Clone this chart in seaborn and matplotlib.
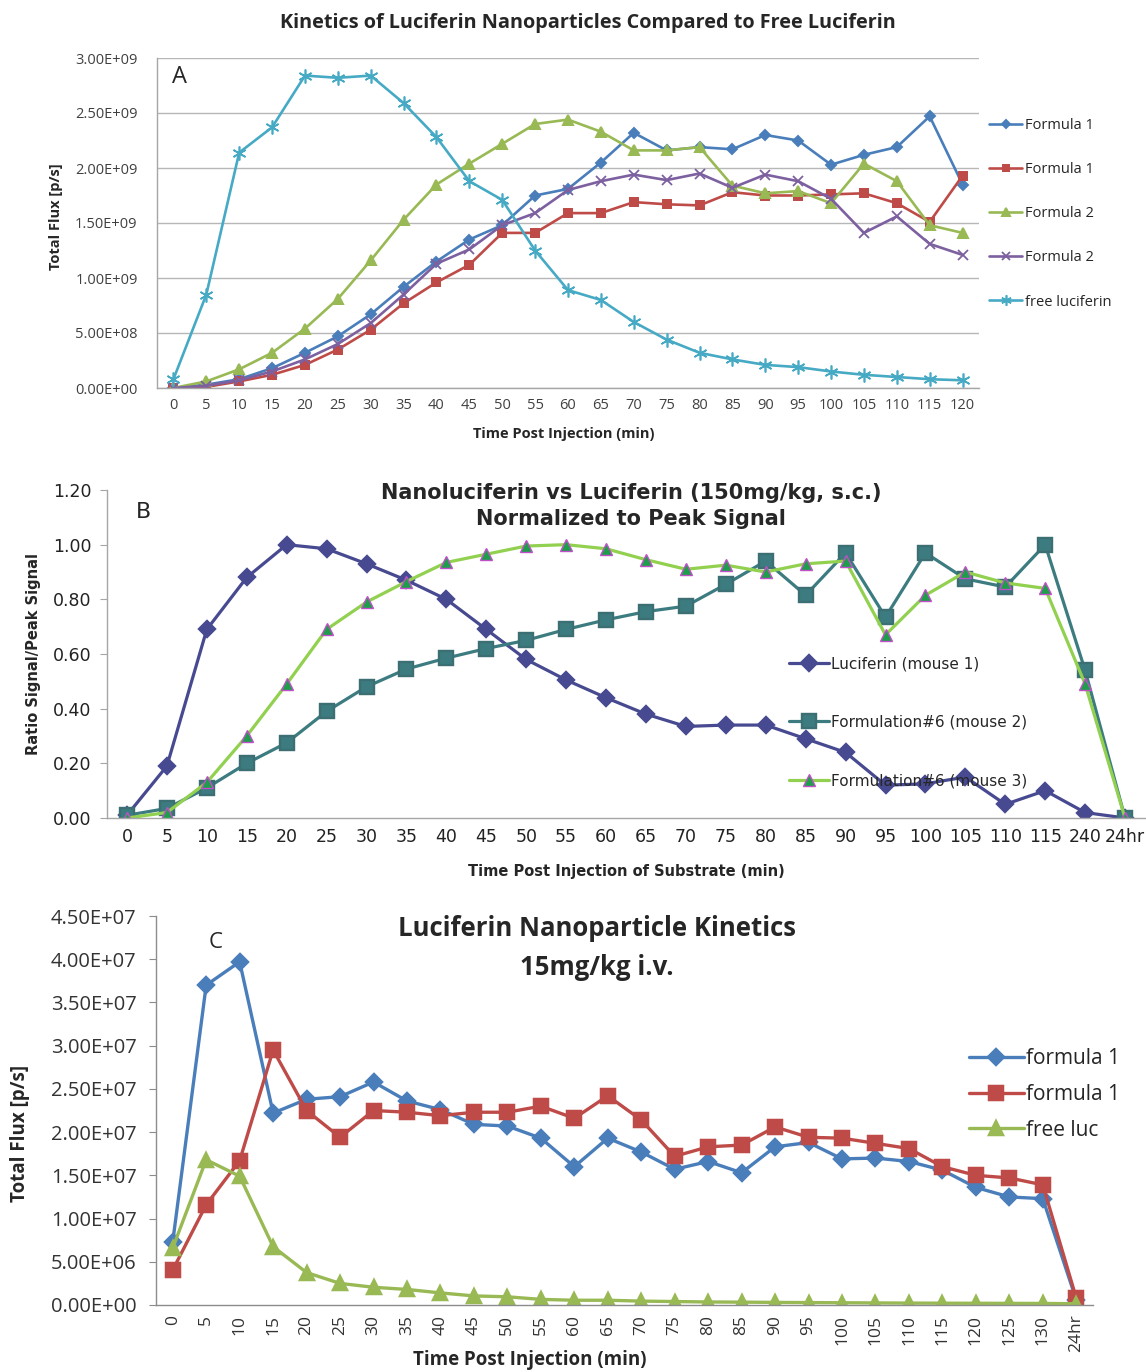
import numpy as np
import matplotlib
matplotlib.use("Agg")
import matplotlib.pyplot as plt
import seaborn as sns
from matplotlib.ticker import FuncFormatter

sns.set_style("white")
plt.rcParams["font.family"] = ["Open Sans", "DejaVu Sans"]

# ---- panel A : total flux, units of 1e9 p/s
times_a = ["0", "5", "10", "15", "20", "25", "30", "35", "40", "45", "50", "55", "60",
           "65", "70", "75", "80", "85", "90", "95", "100", "105", "110", "115", "120"]
a_formula1_blue = [0.00, 0.03, 0.08, 0.18, 0.32, 0.47, 0.67, 0.92, 1.15, 1.35, 1.48, 1.75, 1.81,
                   2.05, 2.32, 2.16, 2.19, 2.17, 2.30, 2.25, 2.03, 2.12, 2.19, 2.47, 1.85]
a_formula1_red = [0.00, 0.01, 0.06, 0.12, 0.21, 0.35, 0.53, 0.77, 0.96, 1.12, 1.41, 1.41, 1.59,
                  1.59, 1.69, 1.67, 1.66, 1.78, 1.75, 1.75, 1.76, 1.77, 1.68, 1.51, 1.93]
a_formula2_green = [0.00, 0.06, 0.17, 0.32, 0.54, 0.81, 1.16, 1.53, 1.85, 2.04, 2.22, 2.40, 2.44,
                    2.33, 2.16, 2.16, 2.19, 1.84, 1.77, 1.79, 1.68, 2.04, 1.88, 1.48, 1.41]
a_formula2_purple = [0.00, 0.02, 0.07, 0.15, 0.26, 0.40, 0.59, 0.85, 1.13, 1.26, 1.48, 1.59, 1.80,
                     1.88, 1.94, 1.89, 1.95, 1.82, 1.94, 1.88, 1.72, 1.41, 1.56, 1.31, 1.21]
a_free = [0.08, 0.85, 2.14, 2.37, 2.84, 2.82, 2.84, 2.59, 2.28, 1.88, 1.71, 1.25, 0.89,
          0.80, 0.60, 0.44, 0.32, 0.26, 0.21, 0.19, 0.15, 0.12, 0.10, 0.08, 0.07]

# ---- panel B : ratio signal / peak signal
times_b = ["0", "5", "10", "15", "20", "25", "30", "35", "40", "45", "50", "55", "60",
           "65", "70", "75", "80", "85", "90", "95", "100", "105", "110", "115", "240", "24hr"]
b_luc_m1 = [0.01, 0.19, 0.69, 0.88, 1.00, 0.985, 0.93, 0.87, 0.80, 0.69, 0.58, 0.505, 0.44,
            0.38, 0.335, 0.34, 0.34, 0.29, 0.24, 0.12, 0.125, 0.15, 0.05, 0.10, 0.02, 0.00]
b_f6_m2 = [0.01, 0.035, 0.11, 0.20, 0.275, 0.39, 0.48, 0.545, 0.585, 0.62, 0.65, 0.69, 0.725,
           0.755, 0.775, 0.855, 0.94, 0.815, 0.97, 0.735, 0.97, 0.875, 0.845, 1.00, 0.54, 0.00]
b_f6_m3 = [0.00, 0.02, 0.13, 0.30, 0.49, 0.69, 0.79, 0.865, 0.935, 0.965, 0.995, 1.00, 0.985,
           0.945, 0.91, 0.925, 0.90, 0.93, 0.94, 0.67, 0.815, 0.90, 0.86, 0.84, 0.49, 0.00]

# ---- panel C : total flux, units of 1e6 p/s
times_c = ["0", "5", "10", "15", "20", "25", "30", "35", "40", "45", "50", "55", "60", "65",
           "70", "75", "80", "85", "90", "95", "100", "105", "110", "115", "120", "125", "130", "24hr"]
c_formula1_blue = [7.3, 37.0, 39.7, 22.2, 23.8, 24.1, 25.8, 23.6, 22.6, 20.9, 20.7, 19.3, 16.0, 19.3,
                   17.7, 15.7, 16.6, 15.3, 18.3, 18.8, 16.9, 17.0, 16.6, 15.6, 13.6, 12.5, 12.3, 0.6]
c_formula1_red = [4.05, 11.6, 16.7, 29.5, 22.5, 19.4, 22.5, 22.3, 21.9, 22.3, 22.3, 23.0, 21.6, 24.2,
                  21.4, 17.2, 18.3, 18.5, 20.6, 19.4, 19.3, 18.7, 18.1, 16.0, 15.0, 14.7, 13.9, 0.8]
c_free = [6.6, 16.8, 14.9, 6.75, 3.75, 2.5, 2.05, 1.8, 1.4, 1.05, 0.95, 0.65, 0.55, 0.55,
          0.45, 0.40, 0.35, 0.33, 0.30, 0.28, 0.26, 0.24, 0.22, 0.21, 0.20, 0.19, 0.18, 0.15]

W, H = 1146, 1372
fig = plt.figure(figsize=(W / 100, H / 100), dpi=100)
DV = ["DejaVu Sans"]


def box(left, top, right, bottom):
    return [left / W, 1 - bottom / H, (right - left) / W, (bottom - top) / H]


def draw(ax, x, y, color, marker, label, lw, ms, **kw):
    sns.pointplot(x=x, y=y, color=color, markers=marker, linestyles="-", errorbar=None,
                  ax=ax, label=label, linewidth=lw, markersize=ms, **kw)


def excel_axis(ax, n, spine="#8c8c8c"):
    ax.set_xlim(-0.5, n - 0.5)
    ax.set_xticks(np.arange(n + 1) - 0.5, minor=True)
    ax.tick_params(axis="x", which="major", length=0, pad=7)
    ax.tick_params(axis="x", which="minor", length=5, color=spine, direction="out")
    ax.tick_params(axis="y", length=5, color=spine, direction="out", left=True)
    for s in ["top", "right"]:
        ax.spines[s].set_visible(False)
    for s in ["left", "bottom"]:
        ax.spines[s].set_color(spine)
        ax.spines[s].set_linewidth(1)


sci = lambda v, p: f"{v:.2E}"

# ================= A
axA = fig.add_axes(box(157, 58, 979, 388))
draw(axA, times_a, np.array(a_formula1_blue) * 1e9, "#4a7ebb", "D", "Formula 1", 1.9, 5.5)
draw(axA, times_a, np.array(a_formula1_red) * 1e9, "#be4b48", "s", "Formula 1", 1.9, 5.5)
draw(axA, times_a, np.array(a_formula2_green) * 1e9, "#98b954", "^", "Formula 2", 1.9, 7)
draw(axA, times_a, np.array(a_formula2_purple) * 1e9, "#7d60a0", "x", "Formula 2", 1.9, 7.5,
     markeredgewidth=1.3)
draw(axA, times_a, np.array(a_free) * 1e9, "#46aac5", (6, 2, 0), "free luciferin", 1.9, 10,
     markeredgewidth=1.2)
axA.set_ylim(0, 3.0e9)
axA.set_yticks(np.arange(0, 3.01e9, 0.5e9))
axA.yaxis.set_major_formatter(FuncFormatter(sci))
axA.grid(axis="y", color="#b7b7b7", linewidth=1)
axA.set_axisbelow(True)
excel_axis(axA, len(times_a), spine="#a6a6a6")
axA.tick_params(axis="y", length=0, pad=14)
axA.tick_params(labelsize=10.5, labelcolor="#404040")
axA.set_xlabel("Time Post Injection (min)", fontsize=10.5, fontweight="bold")
axA.set_ylabel("Total Flux [p/s]", fontsize=10.5, fontweight="bold")
axA.xaxis.set_label_coords(0.495, -0.118)
axA.yaxis.set_label_coords(-0.114, 0.52)
fig.text(179 / W, 1 - 77 / H, "A", fontsize=17, ha="center", va="center")
fig.text(588 / W, 1 - 23 / H, "Kinetics of Luciferin Nanoparticles Compared to Free Luciferin",
         fontsize=14.3, fontweight="bold", ha="center", va="center")
axA.legend(loc="upper left", bbox_to_anchor=(983 / W, 1 - 112 / H),
           bbox_transform=fig.transFigure, frameon=False, fontsize=10.5, markerscale=0.75,
           labelspacing=2.0, handlelength=2.3, handletextpad=0.2, borderaxespad=0)

# ================= B
axB = fig.add_axes(box(107, 490, 1145, 818))
draw(axB, times_b, b_luc_m1, "#474a90", "D", "Luciferin (mouse 1)", 2.3, 8.5)
draw(axB, times_b, b_f6_m2, "#3c7c80", "s", "Formulation#6 (mouse 2)", 2.3, 10,
     markeredgecolor="#3c6f74")
draw(axB, times_b, b_f6_m3, "#92d050", "^", "Formulation#6 (mouse 3)", 2.3, 9,
     markerfacecolor="#1e9e4a", markeredgecolor="#c050c8", markeredgewidth=1.0)
axB.set_ylim(0, 1.2)
axB.set_yticks(np.arange(0, 1.21, 0.2))
axB.yaxis.set_major_formatter(FuncFormatter(lambda v, p: f"{v:.2f}"))
excel_axis(axB, len(times_b), spine="#a6a6a6")
axB.tick_params(labelsize=12.5, labelcolor="#222222")
axB.tick_params(axis="y", pad=6)
for t in axB.get_xticklabels() + axB.get_yticklabels():
    t.set_family(DV)
axB.set_xlabel("Time Post Injection of Substrate (min)", fontsize=10.5, fontweight="bold", family=DV)
axB.set_ylabel("Ratio Signal/Peak Signal", fontsize=10.5, fontweight="bold", family=DV)
axB.xaxis.set_label_coords(0.5, -0.14)
axB.yaxis.set_label_coords(-0.064, 0.5)
fig.text(143 / W, 1 - 512 / H, "B", fontsize=16, ha="center", va="center", family=DV)
fig.text(631 / W, 1 - 506 / H, "Nanoluciferin vs Luciferin (150mg/kg, s.c.)\nNormalized to Peak Signal",
         fontsize=15, fontweight="bold", ha="center", va="center", linespacing=1.42, family=DV)
axB.legend(loc="upper left", bbox_to_anchor=(783 / W, 1 - 650 / H),
           bbox_transform=fig.transFigure, frameon=False,
           prop={"family": DV, "size": 11},
           labelspacing=2.85, handlelength=2.6, handletextpad=0.15, borderaxespad=0)

# ================= C
axC = fig.add_axes(box(156, 916, 1093, 1305))
draw(axC, times_c, np.array(c_formula1_blue) * 1e6, "#4a7ebb", "D", "formula 1", 2.4, 8)
draw(axC, times_c, np.array(c_formula1_red) * 1e6, "#be4b48", "s", "formula 1", 2.4, 10)
draw(axC, times_c, np.array(c_free) * 1e6, "#98b954", "^", "free luc", 2.4, 10)
axC.set_ylim(0, 4.5e7)
axC.set_yticks(np.arange(0, 4.51e7, 0.5e7))
axC.yaxis.set_major_formatter(FuncFormatter(sci))
excel_axis(axC, len(times_c))
axC.tick_params(axis="y", labelsize=14.5, labelcolor="#333333", pad=9)
axC.tick_params(axis="x", labelsize=12.5, labelcolor="#333333", labelrotation=90)
axC.set_xlabel("Time Post Injection (min)", fontsize=13.5, fontweight="bold")
axC.set_ylabel("Total Flux [p/s]", fontsize=13.5, fontweight="bold")
axC.xaxis.set_label_coords(0.399, -0.116)
axC.yaxis.set_label_coords(-0.134, 0.442)
fig.text(216 / W, 1 - 942 / H, "C", fontsize=16, ha="center", va="center")
fig.text(597 / W, 1 - 948 / H, "Luciferin Nanoparticle Kinetics\n15mg/kg i.v.",
         fontsize=18.5, fontweight="bold", ha="center", va="center", linespacing=1.55)
axC.legend(loc="upper left", bbox_to_anchor=(961 / W, 1 - 1040 / H),
           bbox_transform=fig.transFigure, frameon=False, fontsize=15,
           labelspacing=0.7, handlelength=2.6, handletextpad=0.1, borderaxespad=0)

fig.savefig("out.png", dpi=100)
